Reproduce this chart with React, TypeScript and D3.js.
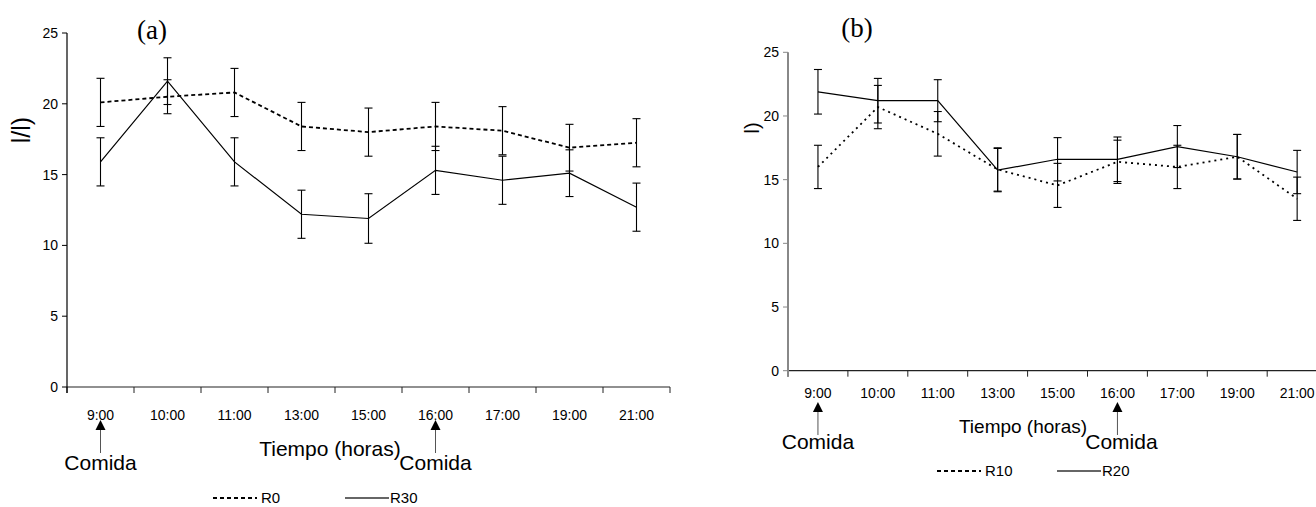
import React from "react";
import * as d3 from "d3";

// hours of the day on the x axis (same for both panels)
const categories = ["9:00", "10:00", "11:00", "13:00", "15:00", "16:00", "17:00", "19:00", "21:00"];
const mealTimes = ["9:00", "16:00"];
const yTicks = [0, 5, 10, 15, 20, 25];

// panel (a)
const r0 = [20.1, 20.5, 20.8, 18.4, 18.0, 18.4, 18.1, 16.9, 17.25];
const r0Err = [1.7, 1.2, 1.7, 1.7, 1.7, 1.7, 1.7, 1.65, 1.7];
const r30 = [15.9, 21.6, 15.9, 12.2, 11.9, 15.3, 14.6, 15.1, 12.7];
const r30Err = [1.7, 1.65, 1.7, 1.7, 1.75, 1.7, 1.7, 1.65, 1.7];

// panel (b)
const r10 = [16.0, 20.7, 18.6, 15.8, 14.55, 16.4, 16.0, 16.8, 13.5];
const r10Err = [1.7, 1.7, 1.75, 1.7, 1.73, 1.7, 1.7, 1.75, 1.7];
const r20 = [21.9, 21.2, 21.2, 15.75, 16.6, 16.6, 17.6, 16.8, 15.6];
const r20Err = [1.75, 1.75, 1.65, 1.7, 1.7, 1.75, 1.65, 1.75, 1.7];

const SANS = "'Liberation Sans', Arial, sans-serif";
const SERIF = "'Liberation Serif', 'Times New Roman', serif";

function Series({ values, errs, x, y, dash, width }) {
  const line = d3
    .line()
    .x((d, i) => x(categories[i]) + x.bandwidth() / 2)
    .y((d) => y(d));
  return (
    <g>
      <path d={line(values)} fill="none" stroke="#000" strokeWidth={width} strokeDasharray={dash} />
      {values.map((v, i) => {
        const cx = x(categories[i]) + x.bandwidth() / 2;
        const top = y(v + errs[i]);
        const bot = y(v - errs[i]);
        return (
          <g key={i} stroke="#000" strokeWidth={1.1}>
            <line x1={cx} x2={cx} y1={top} y2={bot} />
            <line x1={cx - 4} x2={cx + 4} y1={top} y2={top} />
            <line x1={cx - 4} x2={cx + 4} y1={bot} y2={bot} />
          </g>
        );
      })}
    </g>
  );
}

function Panel(props) {
  const { left, right, top, bottom, yAxisColor, yAxisWidth, s1, s1Err, s2, s2Err, dash1, dashWidth } = props;
  const x = d3.scaleBand().domain(categories).range([left, right]);
  const y = d3.scaleLinear().domain([0, 25]).range([bottom, top]);
  const cx = (c) => x(c) + x.bandwidth() / 2;
  const ticksX = categories.map((c) => x(c)).concat([right]);
  const lab = props.labels;

  return (
    <g fontFamily={SANS}>
      {/* axes */}
      <line x1={left} x2={right} y1={bottom} y2={bottom} stroke="#222" strokeWidth={1.2} />
      {ticksX.map((t, i) => (
        <line key={i} x1={t} x2={t} y1={bottom} y2={bottom + 6} stroke="#222" strokeWidth={1} />
      ))}
      <line x1={left} x2={left} y1={y(25)} y2={bottom + 6} stroke={yAxisColor} strokeWidth={yAxisWidth} />
      {yTicks.map((t) => (
        <g key={t}>
          <line x1={left - 5} x2={left} y1={y(t)} y2={y(t)} stroke={yAxisColor} />
          <text x={left - 9} y={y(t)} dy="0.35em" textAnchor="end" fontSize={14}>
            {t}
          </text>
        </g>
      ))}
      {categories.map((c) => (
        <text key={c} x={cx(c)} y={lab.tickY} textAnchor="middle" fontSize={14}>
          {c}
        </text>
      ))}

      {/* data */}
      <Series values={s1} errs={s1Err} x={x} y={y} dash={dash1} width={dashWidth} />
      <Series values={s2} errs={s2Err} x={x} y={y} dash={null} width={1.2} />

      {/* meal arrows */}
      {mealTimes.map((m, i) => (
        <g key={m}>
          <line x1={cx(m)} x2={cx(m)} y1={lab.arrowTop + 8} y2={lab.arrowTop + 33} stroke="#555" strokeWidth={1} />
          <path
            d={`M${cx(m)},${lab.arrowTop} L${cx(m) - 5},${lab.arrowTop + 10} L${cx(m) + 5},${lab.arrowTop + 10} Z`}
            fill="#000"
          />
          <text x={cx(m) + (i === 1 ? lab.comidaShift : 0)} y={lab.comidaY} textAnchor="middle" fontSize={21}>
            Comida
          </text>
        </g>
      ))}

      <text x={lab.titleX} y={lab.titleY} textAnchor="middle" fontSize={lab.titleSize}>
        Tiempo (horas)
      </text>
      <text x={lab.panelX} y={lab.panelY} textAnchor="middle" fontSize={27} fontFamily={SERIF}>
        {lab.panel}
      </text>
      <text
        transform={`translate(${lab.yLabX},${lab.yLabY}) rotate(-90)`}
        textAnchor="middle"
        fontSize={lab.yLabSize}
      >
        {lab.yLab}
      </text>

      {/* legend */}
      <line x1={lab.leg1} x2={lab.leg1 + 44} y1={lab.legY} y2={lab.legY} stroke="#000" strokeWidth={2} strokeDasharray="4,3" />
      <text x={lab.leg1 + 48} y={lab.legY} dy="0.35em" fontSize={15}>
        {lab.name1}
      </text>
      <line x1={lab.leg2} x2={lab.leg2 + 44} y1={lab.legY} y2={lab.legY} stroke="#333" strokeWidth={1.5} />
      <text x={lab.leg2 + 45} y={lab.legY} dy="0.35em" fontSize={15}>
        {lab.name2}
      </text>
    </g>
  );
}

export default function App() {
  return (
    <svg
      width={1316}
      height={507}
      style={{ position: "absolute", left: 0, top: 0, background: "#fff" }}
    >
      <Panel
        left={67}
        right={670}
        top={33}
        bottom={387}
        yAxisColor="#000"
        yAxisWidth={1.2}
        s1={r0}
        s1Err={r0Err}
        s2={r30}
        s2Err={r30Err}
        dash1="4,3"
        dashWidth={1.8}
        labels={{
          tickY: 420,
          arrowTop: 420,
          comidaY: 470,
          comidaShift: 0,
          titleX: 330,
          titleY: 456,
          titleSize: 21,
          panel: "(a)",
          panelX: 152,
          panelY: 39,
          yLab: "l/l)",
          yLabX: 30,
          yLabY: 130,
          yLabSize: 25,
          legY: 498,
          leg1: 213,
          leg2: 345,
          name1: "R0",
          name2: "R30",
        }}
      />
      <Panel
        left={788}
        right={788 + 9 * 59.9}
        top={52.3}
        bottom={370.7}
        yAxisColor="#888"
        yAxisWidth={2}
        s1={r10}
        s1Err={r10Err}
        s2={r20}
        s2Err={r20Err}
        dash1="2,4"
        dashWidth={1.8}
        labels={{
          tickY: 398,
          arrowTop: 402,
          comidaY: 449,
          comidaShift: 4,
          titleX: 1023,
          titleY: 433,
          titleSize: 19,
          panel: "(b)",
          panelX: 857,
          panelY: 37,
          yLab: "l)",
          yLabX: 759,
          yLabY: 128,
          yLabSize: 20,
          legY: 471,
          leg1: 937,
          leg2: 1057,
          name1: "R10",
          name2: "R20",
        }}
      />
    </svg>
  );
}
